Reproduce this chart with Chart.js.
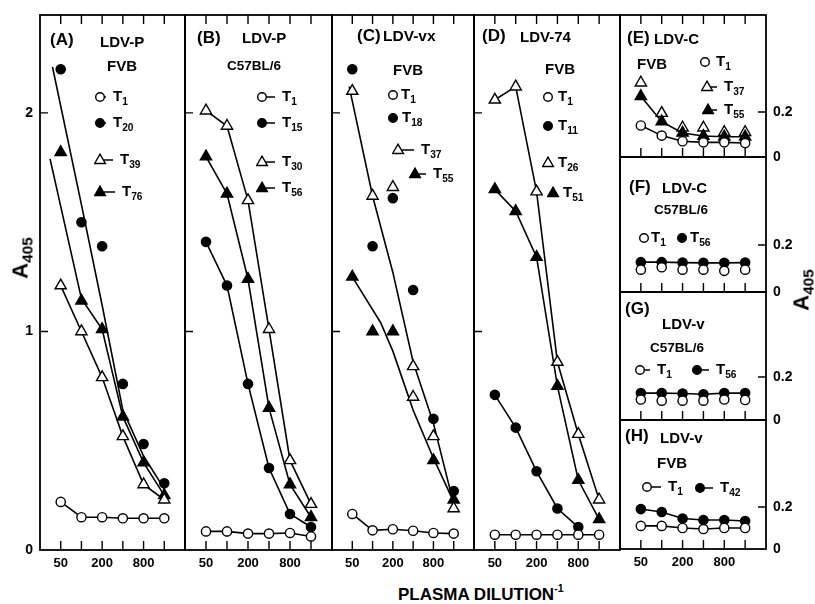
<!DOCTYPE html>
<html>
<head>
<meta charset="utf-8">
<script src="https://cdn.jsdelivr.net/npm/chart.js@4.4.1/dist/chart.umd.min.js"></script>
<style>
  body { margin: 0; background: #fff; }
  #fig { position: relative; width: 815px; height: 604px; overflow: hidden;
         font-family: "Liberation Sans", Arial, sans-serif; font-weight: bold; color: #000; }
  #fig canvas { position: absolute; }
  .t { position: absolute; white-space: nowrap; line-height: 1; transform: translateY(-50%); }
  .t sub { font-size: 0.68em; vertical-align: -0.4em; }
  .t sup { font-size: 0.62em; vertical-align: 0.7em; }
  .rot { position: absolute; white-space: nowrap; line-height: 1; transform: translate(-50%, -50%) rotate(-90deg); }
  .rot sub { font-size: 0.7em; vertical-align: -0.3em; }
  .sym { position: absolute; }
</style>
</head>
<body>
<div id="fig"></div>
<script>
// x categories (plasma dilution) and tick labels
const dilutions = [50, 100, 200, 400, 800, 1600];
const xLabels = [50, 200, 800];
const mainYTicks = [0, 1, 2];
const smallYTicks = [0, 0.2];

// (A) LDV-P, FVB
const aT1  = [0.22, 0.15, 0.15, 0.145, 0.145, 0.145];
const aT20 = [2.20, 1.50, 1.39, 0.76, 0.485, 0.305];
const aT39 = [1.21, 1.00, 0.79, 0.52, 0.30, 0.23];
const aT76 = [1.82, 1.14, 1.01, 0.61, 0.40, 0.25];
const aT20FitX = [38, 100, 200, 400, 800, 1600];
const aT20Fit  = [2.21, 1.58, 1.12, 0.64, 0.43, 0.28];
const aT76FitX = [35, 100, 200, 400, 800, 1600];
const aT76Fit  = [1.79, 1.15, 1.01, 0.61, 0.40, 0.25];

// (B) LDV-P, C57BL/6
const bT1  = [0.085, 0.085, 0.075, 0.075, 0.078, 0.062];
const bT15 = [1.41, 1.21, 0.76, 0.375, 0.165, 0.105];
const bT30 = [2.01, 1.94, 1.60, 1.01, 0.41, 0.21];
const bT56 = [1.80, 1.63, 1.24, 0.65, 0.30, 0.15];

// (C) LDV-vx, FVB
const cT1  = [0.165, 0.09, 0.095, 0.088, 0.078, 0.075];
const cT18 = [2.20, 1.39, 1.61, 1.19, 0.60, 0.27];
const cT37 = [2.10, 1.62, 1.66, 0.84, 0.52, 0.19];
const cT55 = [1.25, 1.00, 1.00, 0.70, 0.41, 0.23];
const cT37FitX = [45, 100, 200, 400, 800, 1600];
const cT37Fit  = [2.12, 1.62, 1.27, 0.86, 0.58, 0.21];
const cT55FitX = [50, 132, 200, 400, 800, 1600];
const cT55Fit  = [1.25, 1.04, 0.91, 0.64, 0.42, 0.22];

// (D) LDV-74, FVB
const dT1  = [0.07, 0.07, 0.07, 0.07, 0.07, 0.07];
const dT11 = [0.71, 0.56, 0.36, 0.19, 0.105, null];
const dT26 = [2.06, 2.12, 1.64, 0.86, 0.53, 0.23];
const dT51 = [1.65, 1.55, 1.34, 0.75, 0.32, 0.14];

// (E) LDV-C, FVB
const eT1  = [0.14, 0.095, 0.07, 0.065, 0.065, 0.062];
const eT37 = [0.33, 0.195, 0.13, 0.13, 0.11, 0.11];
const eT55 = [0.27, 0.157, 0.107, 0.093, 0.09, 0.09];

// (F) LDV-C, C57BL/6
const fT1  = [0.095, 0.105, 0.095, 0.095, 0.09, 0.095];
const fT56 = [0.127, 0.127, 0.125, 0.124, 0.124, 0.125];

// (G) LDV-v, C57BL/6
const gT1  = [0.095, 0.09, 0.09, 0.09, 0.095, 0.093];
const gT56 = [0.125, 0.125, 0.123, 0.12, 0.125, 0.125];

// (H) LDV-v, FVB
const hT1  = [0.11, 0.11, 0.10, 0.095, 0.10, 0.10];
const hT42 = [0.19, 0.176, 0.145, 0.138, 0.138, 0.133];

const BLACK = '#000', WHITE = '#fff';
const FONT = 'Liberation Sans';
const fig = document.getElementById('fig');

const marker = {
  oc: { pointStyle: 'circle', pointRadius: 4.6, pointBackgroundColor: WHITE },
  fc: { pointStyle: 'circle', pointRadius: 4.6, pointBackgroundColor: BLACK },
  ot: { pointStyle: 'triangle', pointRadius: 6.5, pointBackgroundColor: WHITE },
  ft: { pointStyle: 'triangle', pointRadius: 6.5, pointBackgroundColor: BLACK },
};

function pts(xs, ys) {
  return xs.map((x, i) => ({ x, y: ys[i] })).filter(p => p.y != null);
}

function series(ys, kind, line) {
  return Object.assign({
    data: pts(dilutions, ys),
    showLine: line,
    borderColor: BLACK,
    borderWidth: 1.6,
    pointBorderColor: BLACK,
    pointBorderWidth: 1.4,
    pointHoverRadius: 0,
  }, marker[kind]);
}

function fitLine(xs, ys) {
  return { data: pts(xs, ys), showLine: true, borderColor: BLACK, borderWidth: 1.6, pointRadius: 0 };
}

// frame around each panel plus inward tick marks
const framePlugin = {
  id: 'frame',
  beforeDatasetsDraw(chart, args, o) {
    const { ctx, chartArea: a } = chart;
    const x = chart.scales.x, y = chart.scales.y;
    ctx.save();
    ctx.strokeStyle = BLACK;
    ctx.lineWidth = 1.8;
    ctx.strokeRect(a.left, a.top, a.right - a.left, a.bottom - a.top);
    ctx.lineWidth = 1.4;
    ctx.beginPath();
    x.ticks.forEach(t => {
      const px = x.getPixelForValue(t.value);
      ctx.moveTo(px, a.bottom); ctx.lineTo(px, a.bottom - 9);
      if (o.topTicks) { ctx.moveTo(px, a.top); ctx.lineTo(px, a.top + 9); }
    });
    y.ticks.forEach(t => {
      if (t.value === 0) return;
      const py = y.getPixelForValue(t.value);
      if (o.yRight) { ctx.moveTo(a.right, py); ctx.lineTo(a.right - 8, py); }
      else { ctx.moveTo(a.left, py); ctx.lineTo(a.left + 8, py); }
    });
    ctx.stroke();
    ctx.restore();
  }
};

function makePanel(box, opt) {
  // fixed axis sizes so every chart area lands exactly on its box
  const L = opt.yRight ? 10 : 35, R = opt.yRight ? 45 : 10, T = 20, B = 30;
  const w = box.w + L + R, h = box.h + T + B;
  const cv = document.createElement('canvas');
  cv.width = w; cv.height = h;
  cv.style.left = (box.x - L) + 'px';
  cv.style.top = (box.y - T) + 'px';
  cv.style.width = w + 'px';
  cv.style.height = h + 'px';
  fig.appendChild(cv);
  const hidden = { grid: { display: false, drawTicks: false }, border: { display: false }, ticks: { display: false } };
  new Chart(cv, {
    type: 'line',
    data: { datasets: opt.datasets },
    options: {
      responsive: false,
      animation: false,
      devicePixelRatio: 1,
      layout: { padding: 0 },
      events: [],
      plugins: {
        legend: { display: false },
        tooltip: { enabled: false },
        frame: { topTicks: opt.topTicks, yRight: opt.yRight },
      },
      scales: {
        x: {
          type: 'logarithmic', position: 'bottom', min: 25, max: 3200,
          afterFit: s => { s.height = B; },
          afterBuildTicks: s => { s.ticks = dilutions.map(v => ({ value: v })); },
          grid: { display: false, drawTicks: false },
          border: { display: false },
          ticks: {
            display: !!opt.xLabels, autoSkip: false, maxRotation: 0, padding: 6,
            color: BLACK, font: { family: FONT, size: 13, weight: 'bold' },
            callback: v => xLabels.includes(v) ? String(v) : '',
          },
        },
        y: {
          type: 'linear', position: opt.yRight ? 'right' : 'left', min: 0, max: opt.yMax,
          afterFit: s => { s.width = opt.yRight ? R : L; },
          afterBuildTicks: s => { s.ticks = opt.yTicks.map(v => ({ value: v })); },
          grid: { display: false, drawTicks: false },
          border: { display: false },
          ticks: {
            display: !!opt.yLabels, padding: 7,
            color: BLACK, font: { family: FONT, size: 14, weight: 'bold' },
            callback: v => String(v),
          },
        },
        top: Object.assign({ type: 'linear', position: 'top', afterFit: s => { s.height = T; } }, hidden),
        side: Object.assign({ type: 'linear', position: opt.yRight ? 'left' : 'right',
          afterFit: s => { s.width = opt.yRight ? L : R; } }, hidden),
      },
    },
    plugins: [framePlugin],
  });
}

// panel boxes on the page
const MAIN_MAX = 2.448;
makePanel({ x: 40, y: 15, w: 145, h: 535 }, {
  yMax: MAIN_MAX, yTicks: mainYTicks, yLabels: true, xLabels: true, topTicks: true,
  datasets: [
    series(aT1, 'oc', true),
    series(aT20, 'fc', false),
    fitLine(aT20FitX, aT20Fit),
    series(aT39, 'ot', true),
    series(aT76, 'ft', false),
    fitLine(aT76FitX, aT76Fit),
  ],
});
makePanel({ x: 185, y: 15, w: 147, h: 535 }, {
  yMax: MAIN_MAX, yTicks: mainYTicks, xLabels: true, topTicks: true,
  datasets: [
    series(bT1, 'oc', true),
    series(bT15, 'fc', true),
    series(bT30, 'ot', true),
    series(bT56, 'ft', true),
  ],
});
const cT55Style = series(cT55, 'ft', false);
cT55Style.pointBackgroundColor = cT55.map((v, i) => i === 3 ? WHITE : BLACK);
makePanel({ x: 332, y: 15, w: 142, h: 535 }, {
  yMax: MAIN_MAX, yTicks: mainYTicks, xLabels: true, topTicks: true,
  datasets: [
    series(cT1, 'oc', true),
    series(cT18, 'fc', false),
    series(cT37, 'ot', false),
    fitLine(cT37FitX, cT37Fit),
    cT55Style,
    fitLine(cT55FitX, cT55Fit),
  ],
});
makePanel({ x: 474, y: 15, w: 146, h: 535 }, {
  yMax: MAIN_MAX, yTicks: mainYTicks, xLabels: true, topTicks: true,
  datasets: [
    series(dT1, 'oc', true),
    series(dT11, 'fc', true),
    series(dT26, 'ot', true),
    series(dT51, 'ft', true),
  ],
});
makePanel({ x: 620, y: 15, w: 146, h: 142 }, {
  yMax: 0.631, yTicks: smallYTicks, yLabels: true, yRight: true, topTicks: true,
  datasets: [
    series(eT1, 'oc', true),
    series(eT55, 'ft', true),
    series(eT37, 'ot', false),
  ],
});
makePanel({ x: 620, y: 157, w: 146, h: 135 }, {
  yMax: 0.574, yTicks: smallYTicks, yLabels: true, yRight: true,
  datasets: [
    series(fT1, 'oc', false),
    series(fT56, 'fc', true),
  ],
});
makePanel({ x: 620, y: 292, w: 146, h: 128 }, {
  yMax: 0.595, yTicks: smallYTicks, yLabels: true, yRight: true,
  datasets: [
    series(gT1, 'oc', false),
    series(gT56, 'fc', true),
  ],
});
makePanel({ x: 620, y: 420, w: 146, h: 129 }, {
  yMax: 0.614, yTicks: smallYTicks, yLabels: true, yRight: true, xLabels: true,
  datasets: [
    series(hT1, 'oc', true),
    series(hT42, 'fc', true),
  ],
});

// ---- text labels ----
function txt(x, y, html, size) {
  const d = document.createElement('div');
  d.className = 't';
  d.style.left = x + 'px';
  d.style.top = y + 'px';
  d.style.fontSize = size + 'px';
  d.innerHTML = html;
  fig.appendChild(d);
}

const shapes = {
  oc: '<circle cx="6" cy="7" r="4.3" fill="#fff" stroke="#000" stroke-width="1.4"/>',
  fc: '<circle cx="6" cy="7" r="4.3" fill="#000" stroke="#000" stroke-width="1.4"/>',
  ot: '<path d="M6 1.2 L11.4 10.5 L0.6 10.5 Z" fill="#fff" stroke="#000" stroke-width="1.4"/>',
  ft: '<path d="M6 1.2 L11.4 10.5 L0.6 10.5 Z" fill="#000" stroke="#000" stroke-width="1.4"/>',
};

function legendItem(mx, my, kind, tx, sub) {
  const w = tx - mx + 4;
  const d = document.createElement('div');
  d.className = 'sym';
  d.style.left = (mx - 6) + 'px';
  d.style.top = (my - 7) + 'px';
  d.innerHTML = '<svg width="' + w + '" height="14">' +
    '<line x1="10" y1="7" x2="' + (w - 5) + '" y2="7" stroke="#000" stroke-width="1.5"/>' +
    shapes[kind] + '</svg>';
  fig.appendChild(d);
  txt(tx, my + 1, 'T<sub>' + sub + '</sub>', 15);
}

// titles
[
  [50, 39, '(A)', 17], [100, 41, 'LDV-P', 15], [107, 65, 'FVB', 15],
  [197, 37, '(B)', 17], [242, 37, 'LDV-P', 15], [227, 66, 'C57BL/6', 13.5],
  [357, 35, '(C)', 17], [383, 36, 'LDV-vx', 15.5], [393, 69, 'FVB', 15],
  [482, 35, '(D)', 17], [520, 36, 'LDV-74', 15], [545, 68, 'FVB', 15],
  [627, 37, '(E)', 17], [654, 38, 'LDV-C', 15], [637, 63, 'FVB', 15],
  [629, 186, '(F)', 17], [662, 187, 'LDV-C', 15], [654, 210, 'C57BL/6', 13.5],
  [625, 308, '(G)', 17], [662, 323, 'LDV-v', 15], [650, 348, 'C57BL/6', 13.5],
  [625, 435, '(H)', 17], [660, 437, 'LDV-v', 15], [657, 462, 'FVB', 15],
].forEach(t => txt(t[0], t[1], t[2], t[3]));

// legends
[
  [100, 97, 'oc', 113, '1'], [100, 123, 'fc', 113, '20'], [100, 160, 'ot', 120, '39'], [100, 192, 'ft', 122, '76'],
  [262, 97, 'oc', 282, '1'], [262, 123, 'fc', 282, '15'], [262, 162, 'ot', 282, '30'], [262, 188, 'ft', 282, '56'],
  [393, 95, 'oc', 401, '1'], [393, 118, 'fc', 402, '18'], [398, 150, 'ot', 421, '37'], [415, 174, 'ft', 433, '55'],
  [548, 97, 'oc', 558, '1'], [548, 126, 'fc', 558, '11'], [548, 163, 'ot', 558, '26'], [553, 193, 'ft', 563, '51'],
  [705, 62, 'oc', 716, '1'], [707, 87, 'ot', 724, '37'], [708, 110, 'ft', 724, '55'],
  [644, 238, 'oc', 651, '1'], [682, 238, 'fc', 690, '56'],
  [640, 370, 'oc', 657, '1'], [697, 370, 'fc', 716, '56'],
  [647, 487, 'oc', 668, '1'], [700, 488, 'fc', 720, '42'],
].forEach(l => legendItem(l[0], l[1], l[2], l[3], l[4]));

// axis titles
function rot(x, y, html, size) {
  const d = document.createElement('div');
  d.className = 'rot';
  d.style.left = x + 'px';
  d.style.top = y + 'px';
  d.style.fontSize = size + 'px';
  d.innerHTML = html;
  fig.appendChild(d);
}
rot(22, 258, 'A<sub>405</sub>', 22);
rot(803, 290, 'A<sub>405</sub>', 22);
txt(398, 593, 'PLASMA DILUTION<sup>-1</sup>', 17);
</script>
</body>
</html>
